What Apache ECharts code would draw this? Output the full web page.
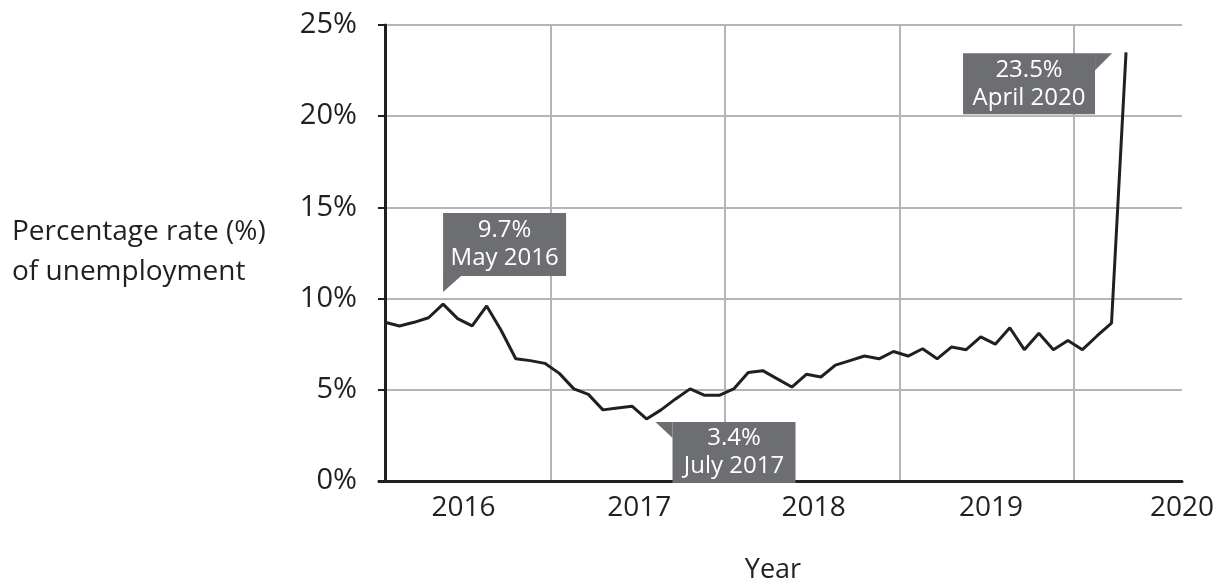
<!DOCTYPE html>
<html>
<head>
<meta charset="utf-8">
<script src="https://cdn.jsdelivr.net/npm/echarts@6/dist/echarts.min.js"></script>
<style>
  html, body { margin: 0; padding: 0; background: #fff; }
  #chart { width: 1217px; height: 583px; }
</style>
</head>
<body>
<div id="chart"></div>
<script>
// monthly unemployment rate, Jan 2016 .. Apr 2020 (month index 0 = Jan 2016)
const months = [
  '2016-01', '2016-02', '2016-03', '2016-04', '2016-05', '2016-06', '2016-07', '2016-08', '2016-09', '2016-10', '2016-11', '2016-12',
  '2017-01', '2017-02', '2017-03', '2017-04', '2017-05', '2017-06', '2017-07', '2017-08', '2017-09', '2017-10', '2017-11', '2017-12',
  '2018-01', '2018-02', '2018-03', '2018-04', '2018-05', '2018-06', '2018-07', '2018-08', '2018-09', '2018-10', '2018-11', '2018-12',
  '2019-01', '2019-02', '2019-03', '2019-04', '2019-05', '2019-06', '2019-07', '2019-08', '2019-09', '2019-10', '2019-11', '2019-12',
  '2020-01', '2020-02', '2020-03', '2020-04',
]
const rates = [
  8.7, 8.5, 8.7, 8.95, 9.7, 8.9, 8.5, 9.6, 8.25, 6.7, 6.6, 6.45,
  5.9, 5.05, 4.75, 3.9, 4.0, 4.1, 3.4, 3.9, 4.5, 5.05, 4.7, 4.7,
  5.05, 5.95, 6.05, 5.6, 5.15, 5.85, 5.7, 6.35, 6.6, 6.85, 6.7, 7.1,
  6.85, 7.25, 6.7, 7.35, 7.2, 7.9, 7.5, 8.4, 7.2, 8.1, 7.2, 7.7,
  7.2, 7.95, 8.65, 23.5,
]

const yearLabels = ['2016', '2017', '2018', '2019', '2020']
const yearLabelAt = [5.4, 17.5, 29.5, 41.7, 54.85]   // month index where each year label sits
const yearDividers = [11.4, 23.4, 35.4, 47.4]        // vertical grid lines between years

const yTicks = [0, 5, 10, 15, 20, 25]

// callouts: month index + text
const calloutIdx = [4, 18, 51]
const calloutText = [
  ['9.7%', 'May 2016'],
  ['3.4%', 'July 2017'],
  ['23.5%', 'April 2020'],
]

const ink = '#231f20'
const gridGray = '#b5b5b5'
const boxGray = '#6d6e71'
const font = '"Open Sans", "Noto Sans", sans-serif'

const chart = echarts.init(document.getElementById('chart'))

const option = {
  backgroundColor: '#fff',
  animation: false,
  grid: { left: 379, right: 34, top: 25, bottom: 102 },
  xAxis: {
    type: 'value',
    min: -0.41,
    max: 54.85,
    axisLine: { show: true, onZero: true, lineStyle: { color: ink, width: 3 } },
    axisTick: { show: false, customValues: yearDividers },
    splitLine: { show: true, lineStyle: { color: gridGray, width: 2 } },
    axisLabel: {
      customValues: yearLabelAt,
      color: ink,
      fontSize: 28,
      fontFamily: font,
      margin: 13,
      formatter: (v) => {
        let best = 0
        yearLabelAt.forEach((p, i) => {
          if (Math.abs(p - v) < Math.abs(yearLabelAt[best] - v)) best = i
        })
        return yearLabels[best]
      },
    },
  },
  yAxis: {
    type: 'value',
    min: yTicks[0],
    max: yTicks[yTicks.length - 1],
    interval: 5,
    axisLine: { show: true, lineStyle: { color: ink, width: 3 } },
    axisTick: { show: true, length: 7, lineStyle: { color: ink, width: 2 } },
    splitLine: { show: true, lineStyle: { color: gridGray, width: 2 } },
    axisLabel: {
      formatter: '{value}%',
      color: ink,
      fontSize: 29,
      fontFamily: font,
      margin: 22,
    },
  },
  series: [
    {
      type: 'line',
      data: rates.map((r, i) => [i, r]),
      symbol: 'none',
      lineStyle: { color: ink, width: 3 },
      z: 5,
    },
  ],
}

chart.setOption(option)

// callout placement relative to the data point (pixels)
const calloutLayout = [
  { dx: 0, dy: -91, w: 123, h: 63, tail: [[0, -28], [18, -28], [0, -12]] },
  { dx: 26, dy: 3, w: 123, h: 61, tail: [[9, 3], [26, 3], [26, 19]] },
  { dx: -163, dy: 1, w: 132, h: 61, tail: [[-31, 1], [-14, 1], [-31, 18]] },
]

const graphics = []
calloutIdx.forEach((idx, k) => {
  const p = chart.convertToPixel({ seriesIndex: 0 }, [idx, rates[idx]])
  const L = calloutLayout[k]
  const bx = p[0] + L.dx
  const by = p[1] + L.dy
  graphics.push({
    type: 'rect',
    z: 100,
    shape: { x: bx, y: by, width: L.w, height: L.h },
    style: { fill: boxGray },
  })
  graphics.push({
    type: 'polygon',
    z: 100,
    shape: { points: L.tail.map((t) => [p[0] + t[0], p[1] + t[1]]) },
    style: { fill: boxGray },
  })
  graphics.push({
    type: 'text',
    z: 101,
    style: {
      text: calloutText[k].join('\n'),
      x: bx + L.w / 2,
      y: by + L.h / 2,
      align: 'center',
      verticalAlign: 'middle',
      fill: '#fff',
      font: '24px ' + font,
      lineHeight: 28,
    },
  })
})

// axis titles
graphics.push({
  type: 'text',
  style: {
    text: 'Percentage rate (%)\nof unemployment',
    x: 12,
    y: 212,
    verticalAlign: 'top',
    fill: ink,
    font: '28px ' + font,
    lineHeight: 40,
  },
})
graphics.push({
  type: 'text',
  style: {
    text: 'Year',
    x: 773,
    y: 570,
    align: 'center',
    verticalAlign: 'middle',
    fill: ink,
    font: '27px ' + font,
  },
})

chart.setOption({ graphic: graphics })
</script>
</body>
</html>
